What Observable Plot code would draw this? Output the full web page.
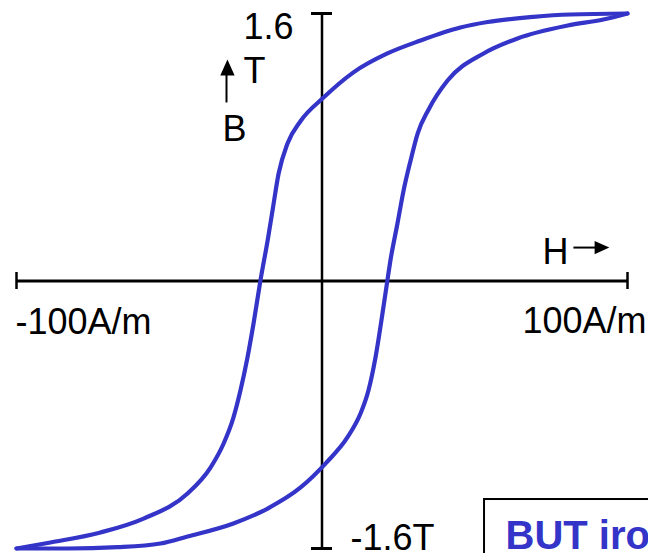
<!DOCTYPE html>
<html>
<head>
<meta charset="utf-8">
<script src="https://cdn.jsdelivr.net/npm/d3@7"></script>
<script src="https://cdn.jsdelivr.net/npm/@observablehq/plot@0.6"></script>
<style>
  html, body { margin: 0; padding: 0; background: #fff; overflow: hidden; }
  #chart svg { display: block; }
</style>
</head>
<body>
<div id="chart"></div>
<script>
// Upper (descending) branch of the hysteresis loop: H in A/m, B in T
const upperH = [100, 81.3, 69.2, 54.2, 45.3, 32.2, 21.4, 10.3, 0.5, -7.0, -11.3, -14.2, -16.2, -17.8, -20.1, -22.4, -24.4, -26.7, -29.0, -32.2, -36.5, -44.0, -58.4, -72.5, -88.9, -100];
const upperB = [1.6, 1.594, 1.580, 1.549, 1.516, 1.438, 1.361, 1.248, 1.097, 0.957, 0.822, 0.643, 0.421, 0.242, 0.009, -0.254, -0.458, -0.655, -0.817, -0.972, -1.116, -1.271, -1.421, -1.504, -1.564, -1.6];
// Lower (ascending) branch
const lowerH = [-100, -83.3, -66.9, -52.9, -44.0, -29.0, -17.8, -7.0, 1.5, 8.3, 12.6, 15.2, 17.5, 19.8, 21.4, 22.4, 24.7, 26.7, 29.0, 31.3, 34.9, 41.1, 52.9, 64.0, 80.4, 92.1, 100];
const lowerB = [-1.6, -1.6, -1.592, -1.570, -1.528, -1.450, -1.361, -1.235, -1.085, -0.936, -0.793, -0.655, -0.458, -0.194, 0.003, 0.123, 0.344, 0.541, 0.721, 0.882, 1.026, 1.199, 1.361, 1.451, 1.528, 1.564, 1.6];

// Axis ends and their labels
const hTicks = [-100, 100];
const hTickLabels = ["-100A/m", "100A/m"];
const bTicks = [1.6, -1.6];
const bTickLabels = ["1.6", "-1.6T"];
const noteText = "BUT iron";

const byH = (a, b) => a.H - b.H;
const loop = [
  ...upperH.map((h, i) => ({H: h, B: upperB[i], branch: "upper"})).sort(byH),
  ...lowerH.map((h, i) => ({H: h, B: lowerB[i], branch: "lower"})).sort(byH)
];

const BLUE = "#3434c8";
const FONT = "'Liberation Sans', Arial, Helvetica, sans-serif";

const arrowHead = {
  draw(ctx, size) {
    const s = Math.sqrt(size);
    ctx.moveTo(0, -0.55 * s);
    ctx.lineTo(0.45 * s, 0.45 * s);
    ctx.lineTo(-0.45 * s, 0.45 * s);
    ctx.closePath();
  }
};

const chart = Plot.plot({
  width: 648,
  height: 553,
  marginLeft: 16,
  marginRight: 21,
  marginTop: 13,
  marginBottom: 5,
  x: {domain: [-100, 100], axis: null},
  y: {domain: [-1.6, 1.6], axis: null},
  style: {fontFamily: FONT, fontSize: "36px", background: "#fff", overflow: "hidden"},
  marks: [
    // horizontal axis
    Plot.ruleY([0], {x1: hTicks[0], x2: hTicks[1], stroke: "#000", strokeWidth: 3}),
    Plot.ruleX(hTicks, {y1: 0, y2: 0, insetTop: -8.5, insetBottom: -8.5, stroke: "#000", strokeWidth: 2.5}),
    // vertical axis
    Plot.ruleX([0], {y1: bTicks[1], y2: bTicks[0], stroke: "#000", strokeWidth: 2.5}),
    Plot.ruleY(bTicks, {x1: 0, x2: 0, insetLeft: -10.5, insetRight: -10.5, stroke: "#000", strokeWidth: 3}),
    // hysteresis loop
    Plot.line(loop, {x: "H", y: "B", z: "branch", curve: "monotone-x", stroke: BLUE, strokeWidth: 4.2, strokeLinecap: "round"}),
    // tick labels
    Plot.text([hTickLabels[0]], {x: hTicks[0], y: 0, text: d => d, textAnchor: "start", lineAnchor: "bottom", dx: -1, dy: 52.5, fill: "#000"}),
    Plot.text([hTickLabels[1]], {x: hTicks[1], y: 0, text: d => d, textAnchor: "start", lineAnchor: "bottom", dx: -105, dy: 52, fill: "#000"}),
    Plot.text([bTickLabels[0]], {x: 0, y: bTicks[0], text: d => d, textAnchor: "end", lineAnchor: "bottom", dx: -28.5, dy: 25, fill: "#000"}),
    Plot.text([bTickLabels[1]], {x: 0, y: bTicks[1], text: d => d, textAnchor: "start", lineAnchor: "bottom", dx: 28.5, dy: 1, fill: "#000"}),
    // axis names
    Plot.text(["T"], {x: 0, y: bTicks[0], text: d => d, textAnchor: "start", lineAnchor: "bottom", dx: -78.5, dy: 69, fill: "#000"}),
    Plot.text(["B"], {x: 0, y: bTicks[0], text: d => d, textAnchor: "start", lineAnchor: "bottom", dx: -99.5, dy: 127, fill: "#000"}),
    Plot.text(["H"], {x: hTicks[1], y: 0, text: d => d, textAnchor: "start", lineAnchor: "bottom", dx: -85, dy: -17.5, fill: "#000"}),
    // arrows
    Plot.link([0], {x1: -31.26, y1: 1.068, x2: -31.26, y2: 1.255, stroke: "#000", strokeWidth: 2}),
    Plot.dot([0], {x: -30.95, y: 1.272, r: 9, symbol: arrowHead, fill: "#000", stroke: "none"}),
    Plot.link([0], {x1: 82.3, y1: 0.200, x2: 90.2, y2: 0.200, stroke: "#000", strokeWidth: 2}),
    Plot.dot([0], {x: 91.4, y: 0.200, r: 8.3, symbol: arrowHead, rotate: 90, fill: "#000", stroke: "none"}),
    // note box
    Plot.rect([0], {x1: 53.2, x2: 112, y1: -1.75, y2: -1.307, fill: "#fff", stroke: "#000", strokeWidth: 2}),
    Plot.text([noteText], {x: 53.2, y: -1.307, text: d => d, textAnchor: "start", lineAnchor: "bottom", dx: 21, dy: 49, fill: BLUE, fontWeight: "bold", fontSize: 40})
  ]
});

document.getElementById("chart").appendChild(chart);
</script>
</body>
</html>
